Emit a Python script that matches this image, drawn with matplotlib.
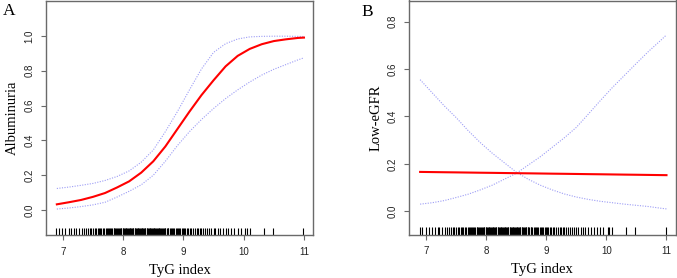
import matplotlib
matplotlib.use("Agg")
import matplotlib.pyplot as plt

# ---- data ----
xa = [6.9, 7.1, 7.3, 7.5, 7.7, 7.9, 8.1, 8.3, 8.5, 8.7, 8.9, 9.1, 9.3, 9.5, 9.7, 9.9, 10.1, 10.3, 10.5, 10.7, 10.9, 11.0]
a_fit = [0.033, 0.045, 0.058, 0.076, 0.098, 0.13, 0.165, 0.215, 0.28, 0.365, 0.465, 0.565, 0.66, 0.745, 0.825, 0.885, 0.925, 0.952, 0.97, 0.98, 0.988, 0.99]
a_up = [0.124, 0.132, 0.142, 0.153, 0.17, 0.193, 0.225, 0.275, 0.345, 0.45, 0.565, 0.69, 0.81, 0.905, 0.955, 0.982, 0.994, 0.997, 0.998, 0.998, 0.997, 0.996]
a_lo = [0.006, 0.012, 0.02, 0.03, 0.045, 0.075, 0.108, 0.145, 0.2, 0.28, 0.37, 0.45, 0.52, 0.583, 0.64, 0.69, 0.735, 0.775, 0.808, 0.835, 0.862, 0.874]

xb = [6.9, 7.1, 7.3, 7.5, 7.7, 7.9, 8.1, 8.3, 8.5, 8.7, 8.9, 9.1, 9.3, 9.5, 9.7, 9.9, 10.1, 10.3, 10.5, 10.7, 10.9, 11.0]
b_fit = [0.166, 0.1653, 0.1646, 0.164, 0.1633, 0.1626, 0.162, 0.1613, 0.1606, 0.16, 0.1593, 0.1586, 0.158, 0.1573, 0.1566, 0.156, 0.1553, 0.1546, 0.154, 0.1533, 0.1526, 0.1523]
b_ci1 = [0.03, 0.036, 0.045, 0.058, 0.072, 0.09, 0.11, 0.135, 0.16, 0.195, 0.23, 0.27, 0.31, 0.354, 0.41, 0.467, 0.522, 0.573, 0.624, 0.674, 0.72, 0.744]
b_ci2 = [0.555, 0.5, 0.445, 0.395, 0.34, 0.29, 0.245, 0.205, 0.165, 0.135, 0.11, 0.09, 0.073, 0.06, 0.05, 0.042, 0.036, 0.03, 0.025, 0.02, 0.013, 0.01]

rug = [6.89, 6.93, 6.99, 7.04, 7.10, 7.14, 7.19, 7.22, 7.27, 7.31, 7.35, 7.38, 7.42, 7.45, 7.47, 7.50,
       7.53, 7.55, 7.58, 7.60, 7.62, 7.64, 7.66, 7.69, 7.71, 7.73, 7.75, 7.77, 7.78, 7.80, 7.82, 7.84,
       7.85, 7.87, 7.88, 7.90, 7.91, 7.93, 7.94, 7.96, 7.97, 7.99, 8.00, 8.01, 8.03, 8.04, 8.05, 8.07,
       8.08, 8.09, 8.11, 8.12, 8.13, 8.15, 8.16, 8.17, 8.19, 8.20, 8.21, 8.23, 8.24, 8.25, 8.27, 8.28,
       8.29, 8.31, 8.32, 8.33, 8.35, 8.36, 8.37, 8.39, 8.40, 8.41, 8.43, 8.44, 8.45, 8.47, 8.48, 8.49,
       8.51, 8.52, 8.53, 8.55, 8.56, 8.57, 8.59, 8.60, 8.61, 8.63, 8.64, 8.66, 8.67, 8.69, 8.70, 8.72,
       8.74, 8.75, 8.77, 8.79, 8.81, 8.83, 8.85, 8.87, 8.89, 8.91, 8.93, 8.95, 8.97, 8.99, 9.01, 9.03,
       9.06, 9.08, 9.11, 9.13, 9.16, 9.19, 9.22, 9.24, 9.27, 9.30, 9.33, 9.36, 9.39, 9.42, 9.46, 9.50,
       9.53, 9.57, 9.61, 9.65, 9.70, 9.74, 9.79, 9.84, 9.90, 9.95, 10.02, 10.05, 10.10, 10.33, 10.48, 10.99]

xticks = [7, 8, 9, 10, 11]
yticks_a = [0.0, 0.2, 0.4, 0.6, 0.8, 1.0]
yticks_b = [0.0, 0.2, 0.4, 0.6, 0.8]

W, H = 677, 278
fig = plt.figure(figsize=(W / 100, H / 100), dpi=100)

def ax_px(l, r, t, b):
    return fig.add_axes([l / W, (H - b) / H, (r - l) / W, (b - t) / H])

SERIF = "Liberation Serif"
SANS = "Liberation Sans"
SPINE = "#6a6a6a"
CI = "#9c9cf5"
DOT = (0, (1, 1.3))

def style(ax, ylim, yticks, ylabel, letter, lx, ly, ylab_x):
    ax.set_xlim(6.72, 11.15)
    ax.set_ylim(*ylim)
    for s in ax.spines.values():
        s.set_color(SPINE)
        s.set_linewidth(1.0)
    ax.set_xticks(xticks)
    ax.set_xticklabels([str(v) for v in xticks], fontfamily=SANS, fontsize=7)
    ax.set_yticks(yticks)
    ax.set_yticklabels([f"{v:.1f}" for v in yticks], fontfamily=SANS, fontsize=7,
                       rotation=90, va="center")
    ax.tick_params(length=3.5, width=0.8, color=SPINE, pad=5, labelcolor="#222222")
    ax.set_xlabel("TyG index", fontfamily=SERIF, fontsize=10.5, labelpad=5)
    ax.set_ylabel(ylabel, fontfamily=SERIF, fontsize=10.5)
    ax.yaxis.set_label_coords(ylab_x, 0.5)
    fig.text(lx / W, 1 - ly / H, letter, fontfamily=SERIF, fontsize=12.5, ha="left", va="center")
    ax.vlines(rug, 0, 0.03, color="black", lw=0.8, transform=ax.get_xaxis_transform())

axA = ax_px(46, 313, 1, 235)
axA.plot(xa, a_up, color=CI, lw=0.8, ls=DOT)
axA.plot(xa, a_lo, color=CI, lw=0.8, ls=DOT)
axA.plot(xa, a_fit, color="red", lw=1.5)
style(axA, (-0.143, 1.2), yticks_a, "Albuminuria", "A", 3, 11, -0.1)

axB = ax_px(409.3, 675.5, 0.5, 234.5)
axB.plot(xb, b_ci1, color=CI, lw=0.8, ls=DOT)
axB.plot(xb, b_ci2, color=CI, lw=0.8, ls=DOT)
axB.plot(xb, b_fit, color="red", lw=1.5)
style(axB, (-0.098, 0.889), yticks_b, "Low-eGFR", "B", 361, 12, -0.1)

fig.savefig("out.png", dpi=100)
